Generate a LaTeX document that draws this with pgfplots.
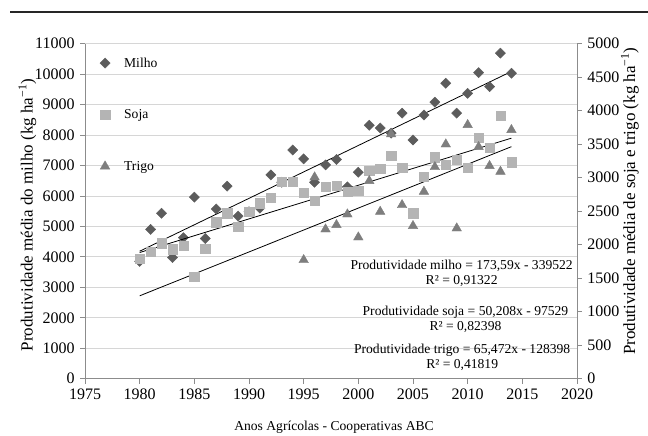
\documentclass[border=0pt]{standalone}
\usepackage{fontspec}
\setmainfont{Liberation Serif}
\usepackage{pgfplots}
\pgfplotsset{compat=1.18}
\definecolor{milho}{HTML}{5C5C5C}
\definecolor{soja}{HTML}{B4B4B4}
\definecolor{trigo}{HTML}{7E7E7E}
\definecolor{gridc}{HTML}{D6D6D6}
\definecolor{axisc}{HTML}{8C8C8C}
\pgfplotsset{
  common/.style={
    at={(85pt,57.3pt)}, anchor=south west,
    width=492pt, height=335pt, scale only axis,
    xmin=1975, xmax=2020,
    axis line style={axisc, line width=0.8pt},
    tick style={axisc, line width=0.8pt},
    tick align=outside, major tick length=5pt,
    ticklabel style={font=\fontsize{16}{19}\selectfont, text=black, inner sep=0.8pt},
    xticklabel shift=4.5pt, yticklabel shift=4.5pt,
    scaled y ticks=false, scaled x ticks=false,
    /pgf/number format/assume math mode=true,
    /pgf/number format/1000 sep={},
    clip=false,
  }
}
\begin{document}
\begin{tikzpicture}[x=1pt,y=1pt]
\path[use as bounding box] (0,0) rectangle (648,436);
\draw[line width=2.8pt, black!85] (10,424) -- (648,424);
\begin{axis}[common,
  ymin=0, ymax=11000,
  axis x line*=bottom, axis y line*=left,
  xtick={1975,1980,...,2020}, ytick={0,1000,...,11000},
  ymajorgrids, grid style={gridc, line width=0.8pt},
]
\addplot[only marks, mark=square*, mark size=3.6pt, mark options={rotate=45}, color=milho] coordinates {
(1980,3850)(1981,4900)(1982,5430)(1983,3980)(1984,4630)(1985,5960)(1986,4600)
(1987,5570)(1988,6320)(1989,5340)(1990,5480)(1991,5600)(1992,6690)(1993,6450)
(1994,7510)(1995,7220)(1996,6450)(1997,7020)(1998,7200)(1999,6300)(2000,6780)
(2001,8320)(2002,8230)(2003,8060)(2004,8720)(2005,7840)(2006,8660)(2007,9080)
(2008,9700)(2009,8720)(2010,9370)(2011,10050)(2012,9590)(2013,10690)(2014,10030)};
\addplot[black, line width=0.8pt] coordinates {(1980,4186)(2014,10088)};
\node[align=center, font=\fontsize{13.6}{15}\selectfont] at (axis cs:2009.45,3455)
  {Produtividade milho = 173,59x - 339522\\R² = 0,91322};
\node[align=center, font=\fontsize{13.6}{15}\selectfont] at (axis cs:2009.8,1954)
  {Produtividade soja = 50,208x - 97529\\R² = 0,82398};
\node[align=center, font=\fontsize{13.6}{15}\selectfont] at (axis cs:2009.5,696)
  {Produtividade trigo = 65,472x - 128398\\R² = 0,41819};
\end{axis}
\begin{axis}[common,
  ymin=0, ymax=5000,
  axis y line*=right, axis x line=none,
  ytick={0,500,...,5000},
  legend style={draw=none, fill=none, at={(0.03,0.965)}, anchor=north west,
    font=\fontsize{13.6}{16}\selectfont, row sep=37pt, column sep=12pt, inner sep=0pt},
  legend cell align=left,
]
\addlegendimage{only marks, mark=square*, mark size=3.6pt, mark options={rotate=45}, color=milho}
\addlegendentry{Milho}
\addplot[only marks, mark=square*, mark size=4.7pt, color=soja] coordinates {
(1980,1790)(1981,1896)(1982,2021)(1983,1932)(1984,1981)(1985,1523)(1986,1936)
(1987,2335)(1988,2469)(1989,2269)(1990,2493)(1991,2619)(1992,2702)(1993,2941)
(1994,2941)(1995,2777)(1996,2653)(1997,2867)(1998,2877)(1999,2792)(2000,2802)
(2001,3105)(2002,3131)(2003,3330)(2004,3150)(2005,2469)(2006,3016)(2007,3305)
(2008,3190)(2009,3265)(2010,3150)(2011,3598)(2012,3449)(2013,3922)(2014,3231)};
\addlegendentry{Soja}
\addplot[only marks, mark=triangle*, mark size=5.5pt, color=trigo] coordinates {
(1995,1772)(1996,3007)(1997,2230)(1998,2295)(1999,2454)(2000,2111)(2001,2952)
(2002,2493)(2003,3649)(2004,2593)(2005,2280)(2006,2792)(2007,3160)(2008,3499)
(2009,2245)(2010,3788)(2011,3460)(2012,3176)(2013,3091)(2014,3713)};
\addlegendentry{Trigo}
\addplot[black, line width=0.8pt, forget plot] coordinates {(1980,1883)(2014,3590)};
\addplot[black, line width=0.8pt, forget plot] coordinates {(1980,1237)(2014,3463)};
\end{axis}
\node[rotate=90, font=\fontsize{17}{19}\selectfont] at (27.5,221) {Produtividade média do milho (kg ha\textsuperscript{−1})};
\node[rotate=90, font=\fontsize{17}{19}\selectfont] at (630,235) {Produtividade média de soja e trigo (kg ha\textsuperscript{−1})};
\node[font=\fontsize{13.6}{15}\selectfont] at (334,9) {Anos Agrícolas - Cooperativas ABC};
\end{tikzpicture}
\end{document}
